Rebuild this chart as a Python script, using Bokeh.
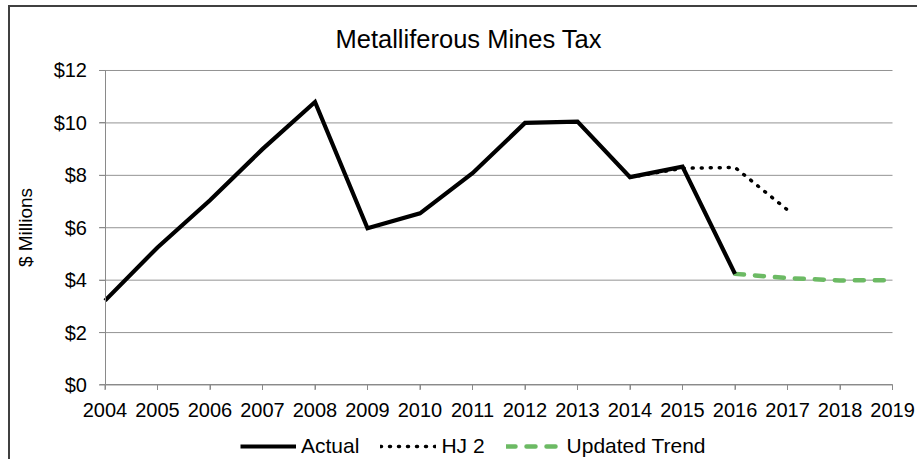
from bokeh.plotting import figure
from bokeh.models import Range1d, FixedTicker, PrintfTickFormatter, Legend, LegendItem
from bokeh.embed import file_html
from bokeh.resources import INLINE

# ---- data ----
years_actual = [2004, 2005, 2006, 2007, 2008, 2009, 2010, 2011, 2012, 2013, 2014, 2015, 2016]
actual = [3.22, 5.25, 7.05, 9.0, 10.8, 5.98, 6.55, 8.08, 10.0, 10.05, 7.93, 8.33, 4.24]

years_hj2 = [2014, 2015, 2016, 2017]
hj2 = [7.93, 8.27, 8.3, 6.68]

years_trend = [2016, 2017, 2018, 2019]
trend = [4.24, 4.08, 3.99, 4.0]

x_ticks = list(range(2004, 2020))
y_ticks = [0, 2, 4, 6, 8, 10, 12]

FONT = "Liberation Sans"
GRID = "#939393"
AXIS = "#8a8a8a"

# pixel scale of the frame (used for tick lengths)
PX_PER_YEAR = 52.5
PX_PER_UNIT = 26.21

# The frame covers the whole canvas; the axes sit at fixed data locations (x=2004, y=0)
# so that tick labels and the legend below the axis are drawn inside the frame.
p = figure(width=909, height=454, output_backend="svg", toolbar_location=None,
           x_range=Range1d(2002.2, 2019.514), y_range=Range1d(-2.919, 12.496),
           min_border_left=0, min_border_right=0, min_border_top=50, min_border_bottom=0)
p.styles = {"margin-left": "8px", "margin-top": "5px",
            "border-left": "2px solid #404040", "border-top": "2px solid #404040"}

p.title.text = "Metalliferous Mines Tax"
p.title.text_font = FONT
p.title.text_font_size = "25.5px"
p.title.text_font_style = "normal"
p.title.text_color = "#000000"
p.title.align = "left"
p.title.offset = 325
p.title.standoff = 10

p.outline_line_color = None
p.xgrid.visible = False
p.ygrid.visible = False

# horizontal gridlines spanning only the plotted years
x_lo, x_hi = x_ticks[0], x_ticks[-1]
p.segment(x0=[x_lo] * len(y_ticks), x1=[x_hi] * len(y_ticks), y0=y_ticks, y1=y_ticks,
          line_color=GRID, line_width=1)

# outward tick marks
x_tick_len = 5 / PX_PER_UNIT
p.segment(x0=x_ticks, x1=x_ticks, y0=[0] * len(x_ticks), y1=[-x_tick_len] * len(x_ticks),
          line_color=AXIS, line_width=1)
y_tick_len = 6 / PX_PER_YEAR
p.segment(x0=[x_lo - y_tick_len] * len(y_ticks), x1=[x_lo] * len(y_ticks), y0=y_ticks, y1=y_ticks,
          line_color=AXIS, line_width=1)

p.xaxis.fixed_location = 0
p.xaxis.bounds = (x_lo, x_hi)
p.xaxis.ticker = FixedTicker(ticks=x_ticks)
p.xaxis.major_label_text_font = FONT
p.xaxis.major_label_text_font_size = "20px"
p.xaxis.major_label_text_color = "#000000"
p.xaxis.axis_line_color = AXIS
p.xaxis.major_tick_line_color = AXIS
p.xaxis.major_tick_out = 5
p.xaxis.major_tick_in = 0
p.xaxis.minor_tick_line_color = None
p.xaxis.major_label_standoff = 13

p.yaxis.fixed_location = x_lo
p.yaxis.ticker = FixedTicker(ticks=y_ticks)
p.yaxis.bounds = (0, 12)
p.yaxis.formatter = PrintfTickFormatter(format="$%d")
p.yaxis.major_label_text_font = FONT
p.yaxis.major_label_text_font_size = "20px"
p.yaxis.major_label_text_color = "#000000"
p.yaxis.axis_line_color = AXIS
p.yaxis.major_tick_line_color = AXIS
p.yaxis.major_tick_out = 6
p.yaxis.major_tick_in = 0
p.yaxis.minor_tick_line_color = None
p.yaxis.major_label_standoff = 12
p.yaxis.axis_label = "$ Millions"
p.yaxis.axis_label_text_font = FONT
p.yaxis.axis_label_text_font_size = "19px"
p.yaxis.axis_label_text_font_style = "normal"
p.yaxis.axis_label_text_color = "#000000"
p.yaxis.axis_label_standoff = 15

r_hj = p.line(years_hj2, hj2, line_color="#000000", line_width=3.5, line_dash="1 8", line_cap="round")
r_tr = p.line(years_trend, trend, line_color="#6CBA64", line_width=4.5, line_dash="9 11", line_cap="round")
r_act = p.line(years_actual, actual, line_color="#000000", line_width=4.2, line_join="miter")

legend = Legend(items=[LegendItem(label="Actual", renderers=[r_act]),
                       LegendItem(label="HJ 2", renderers=[r_hj]),
                       LegendItem(label="Updated Trend", renderers=[r_tr])],
                orientation="horizontal", location=(230, 3),
                label_text_font=FONT, label_text_font_size="21px", label_text_color="#000000",
                glyph_width=56, label_standoff=5, spacing=21,
                border_line_color=None, background_fill_alpha=0, padding=0, margin=0)
p.add_layout(legend)

open("out.html", "w").write(file_html(p, INLINE))
